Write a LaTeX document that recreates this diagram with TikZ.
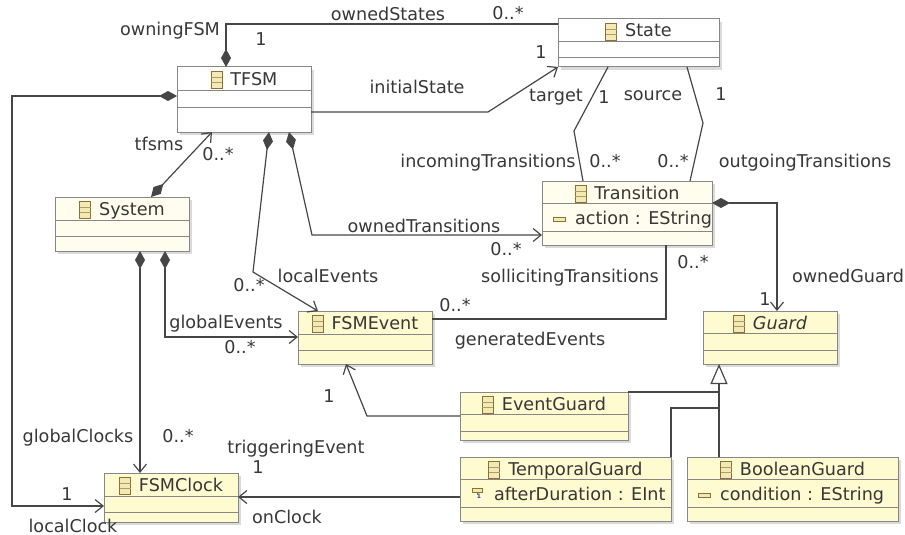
\documentclass[tikz,border=0pt]{standalone}
\usepackage{fontspec}
\setmainfont{DejaVu Sans}
\usetikzlibrary{arrows.meta}
\usetikzlibrary{fit}
\usetikzlibrary{shadows}

\definecolor{textgray}{RGB}{55,55,55}
\definecolor{linegray}{RGB}{70,70,70}
\definecolor{boxgray}{RGB}{135,135,135}
\definecolor{shadowgray}{RGB}{218,218,218}
\definecolor{clsyellow}{RGB}{255,251,208}
\definecolor{clspale}{RGB}{255,254,238}
\definecolor{iconbrown}{RGB}{140,112,56}
\definecolor{iconfill}{RGB}{242,234,176}
\definecolor{iconblue}{RGB}{40,70,160}

\newcommand{\clsicon}{\tikz[x=1pt,y=1pt,baseline=3pt]{\draw[iconbrown,line width=0.9pt,fill=iconfill] (0,0) rectangle (11,16.5); \draw[iconbrown!70,line width=0.7pt] (0,5.5) -- (11,5.5) (0,11) -- (11,11);}}
\newcommand{\attricon}{\tikz[x=1pt,y=1pt,baseline=0pt]{\draw[iconbrown,line width=0.9pt,fill=iconfill] (0,2.5) rectangle (12,7);}}
\newcommand{\intattricon}{\tikz[x=1pt,y=1pt,baseline=0pt]{\draw[iconbrown,line width=0.9pt,fill=iconfill] (0,7.5) rectangle (10,11.5); \draw[iconbrown,line width=0.8pt] (5,7.5) -- (5,5); \node[iconblue,font=\fontsize{6}{6}\selectfont\bfseries,inner sep=0pt] (eintMark) at (4,2) {1};}}

\tikzset{
    classbox/.style={draw=boxgray, line width=1pt, inner sep=0pt, outer sep=0pt, fill=clsyellow,
        drop shadow={shadow xshift=3pt, shadow yshift=-3pt, fill=shadowgray, opacity=1}},
    sepline/.style={draw=boxgray, line width=1pt},
    title/.style={text=textgray, anchor=base, inner sep=0pt},
    attr/.style={text=textgray, anchor=base west, inner sep=0pt},
    lbl/.style={text=textgray, anchor=base, inner sep=0pt},
    link/.style={draw=linegray, line width=1.2pt},
    owns/.style={arrows={Diamond[length=18pt,width=10pt]-}},
    owns nav/.style={arrows={Diamond[length=18pt,width=10pt]-Straight Barb[length=8pt,width=13pt]}},
    nav/.style={arrows={-Straight Barb[length=8pt,width=13pt]}},
    inherits/.style={arrows={-Triangle[open,length=20pt,width=17pt]}}
}

\begin{document}
\begin{tikzpicture}[x=1pt, y=-1pt, font=\fontsize{17.6}{21}\selectfont]
    \useasboundingbox (0,0) rectangle (905,535);

    % Class: TFSM
    \node[classbox, fill=white, fit={(177,67) (311,132)}] (tfsm) {};
    \draw[sepline] (tfsm.west |- 0,90) -- (tfsm.east |- 0,90);
    \draw[sepline] (tfsm.west |- 0,107) -- (tfsm.east |- 0,107);
    \node[title] (tfsmTitle) at ([yshift=-18pt]tfsm.north) {\clsicon\hspace{8pt}TFSM};

    % Class: State
    \node[classbox, fill=white, fit={(558,19) (719,67)}] (state) {};
    \draw[sepline] (state.west |- 0,42) -- (state.east |- 0,42);
    \draw[sepline] (state.west |- 0,58) -- (state.east |- 0,58);
    \node[title] (stateTitle) at ([yshift=-18pt]state.north) {\clsicon\hspace{8pt}State};

    % Class: System
    \node[classbox, fill=clspale, fit={(55,197) (189,251)}] (system) {};
    \draw[sepline] (system.west |- 0,220) -- (system.east |- 0,220);
    \draw[sepline] (system.west |- 0,236) -- (system.east |- 0,236);
    \node[title] (systemTitle) at ([yshift=-18pt]system.north) {\clsicon\hspace{8pt}System};

    % Class: Transition
    \node[classbox, fill=clspale, fit={(542,181) (712,245)}] (transition) {};
    \draw[sepline] (transition.west |- 0,203) -- (transition.east |- 0,203);
    \draw[sepline] (transition.west |- 0,231) -- (transition.east |- 0,231);
    \node[title] (transitionTitle) at ([yshift=-18pt]transition.north) {\clsicon\hspace{8pt}Transition};
    \node[attr] (transitionAction) at (553,224) {\attricon\hspace{9pt}action : EString};

    % Class: Guard (abstract)
    \node[classbox, fit={(703,311) (837,364)}] (guard) {};
    \draw[sepline] (guard.west |- 0,333) -- (guard.east |- 0,333);
    \draw[sepline] (guard.west |- 0,350) -- (guard.east |- 0,350);
    \node[title] (guardTitle) at ([yshift=-18pt]guard.north) {\clsicon\hspace{8pt}\itshape Guard};

    % Class: FSMEvent
    \node[classbox, fit={(298,311) (432,364)}] (fsmevent) {};
    \draw[sepline] (fsmevent.west |- 0,334) -- (fsmevent.east |- 0,334);
    \draw[sepline] (fsmevent.west |- 0,350) -- (fsmevent.east |- 0,350);
    \node[title] (fsmeventTitle) at ([yshift=-18pt]fsmevent.north) {\clsicon\hspace{8pt}FSMEvent};

    % Class: EventGuard
    \node[classbox, fit={(460,392) (628,440)}] (eventguard) {};
    \draw[sepline] (eventguard.west |- 0,414) -- (eventguard.east |- 0,414);
    \draw[sepline] (eventguard.west |- 0,431) -- (eventguard.east |- 0,431);
    \node[title] (eventguardTitle) at ([yshift=-18pt]eventguard.north) {\clsicon\hspace{8pt}EventGuard};

    % Class: TemporalGuard
    \node[classbox, fit={(460,457) (671,521)}] (temporalguard) {};
    \draw[sepline] (temporalguard.west |- 0,479) -- (temporalguard.east |- 0,479);
    \draw[sepline] (temporalguard.west |- 0,507) -- (temporalguard.east |- 0,507);
    \node[title] (temporalguardTitle) at ([yshift=-18pt]temporalguard.north) {\clsicon\hspace{8pt}TemporalGuard};
    \node[attr] (temporalguardAfter) at (472,500) {\intattricon\hspace{11pt}afterDuration : EInt};

    % Class: BooleanGuard
    \node[classbox, fit={(687,457) (898,521)}] (booleanguard) {};
    \draw[sepline] (booleanguard.west |- 0,479) -- (booleanguard.east |- 0,479);
    \draw[sepline] (booleanguard.west |- 0,507) -- (booleanguard.east |- 0,507);
    \node[title] (booleanguardTitle) at ([yshift=-18pt]booleanguard.north) {\clsicon\hspace{8pt}BooleanGuard};
    \node[attr] (booleanguardCondition) at (698,500) {\attricon\hspace{9pt}condition : EString};

    % Class: FSMClock
    \node[classbox, fit={(104,473) (238,522)}] (fsmclock) {};
    \draw[sepline] (fsmclock.west |- 0,496) -- (fsmclock.east |- 0,496);
    \draw[sepline] (fsmclock.west |- 0,512) -- (fsmclock.east |- 0,512);
    \node[title] (fsmclockTitle) at ([yshift=-18pt]fsmclock.north) {\clsicon\hspace{8pt}FSMClock};

    % References
    \draw[link, owns] (tfsm.north -| 226,0) |- (state.west |- 0,24);
    \draw[link, nav] (tfsm.east |- 0,112) -- (488,112) -- (state.south west);
    \draw[link] (state.south -| 608,0) -- (574,131) -- (transition.north -| 583,0);
    \draw[link] (state.south -| 687,0) -- (703,123) -- (transition.north -| 690,0);
    \draw[link, owns nav] (tfsm.south -| 289,0) -- (312,235) -- (transition.west |- 0,235);
    \draw[link, owns nav] (tfsm.south -| 269,0) -- (253,272) -- (fsmevent.north -| 318,0);
    \draw[link, owns nav] (system.north -| 151,0) -- (tfsm.south -| 212,0);
    \draw[link, owns nav] (tfsm.west |- 0,96) -| (12,506) -- (fsmclock.west |- 0,506);
    \draw[link, owns nav] (system.south -| 140,0) -- (fsmclock.north -| 140,0);
    \draw[link, owns nav] (system.south -| 165,0) |- (fsmevent.west |- 0,337);
    \draw[link] (transition.south -| 666,0) |- (fsmevent.east |- 0,319);
    \draw[link, owns nav] (transition.east |- 0,203) -| (guard.north -| 777,0);
    \draw[link, nav] (eventguard.west |- 0,416) -- (367,416) -- (fsmevent.south -| 346,0);
    \draw[link, nav] (temporalguard.west |- 0,497) -- (fsmclock.east |- 0,497);

    % Generalisation
    \draw[link, inherits] (booleanguard.north -| 719,0) -- (guard.south -| 719,0);
    \draw[link] (eventguard.north east) -- (eventguard.north east -| 719,0);
    \draw[link] (temporalguard.north east) |- (719,408);

    % Role names and multiplicities
    \node[lbl] (ownedStatesLbl) at (388,21) {ownedStates};
    \node[lbl] (ownedStatesMul) at (508,20) {0..*};
    \node[lbl] (owningFsmLbl) at (170,36) {owningFSM};
    \node[lbl] (owningFsmMul) at (261,46) {1};
    \node[lbl] (initialStateMul) at (541,59) {1};
    \node[lbl] (initialStateLbl) at (417,93) {initialState};
    \node[lbl] (targetLbl) at (556,101) {target};
    \node[lbl] (targetMul) at (604,103) {1};
    \node[lbl] (sourceLbl) at (653,100) {source};
    \node[lbl] (sourceMul) at (721,100) {1};
    \node[lbl] (tfsmsLbl) at (159,150) {tfsms};
    \node[lbl] (tfsmsMul) at (218,160) {0..*};
    \node[lbl] (incomingLbl) at (488,167) {incomingTransitions};
    \node[lbl] (incomingMul) at (605,167) {0..*};
    \node[lbl] (outgoingMul) at (673,167) {0..*};
    \node[lbl] (outgoingLbl) at (805,167) {outgoingTransitions};
    \node[lbl] (ownedTransitionsLbl) at (424,232) {ownedTransitions};
    \node[lbl] (ownedTransitionsMul) at (506,255) {0..*};
    \node[lbl] (localEventsLbl) at (328,282) {localEvents};
    \node[lbl] (localEventsMul) at (249,291) {0..*};
    \node[lbl] (sollicitingLbl) at (570,282) {sollicitingTransitions};
    \node[lbl] (sollicitingMul) at (693,268) {0..*};
    \node[lbl] (ownedGuardLbl) at (848,282) {ownedGuard};
    \node[lbl] (ownedGuardMul) at (765,305) {1};
    \node[lbl] (generatedMul) at (455,311) {0..*};
    \node[lbl] (globalEventsLbl) at (226,328) {globalEvents};
    \node[lbl] (globalEventsMul) at (240,353) {0..*};
    \node[lbl] (generatedLbl) at (530,345) {generatedEvents};
    \node[lbl] (triggeringMul) at (329,402) {1};
    \node[lbl] (globalClocksLbl) at (78,442) {globalClocks};
    \node[lbl] (globalClocksMul) at (178,442) {0..*};
    \node[lbl] (triggeringLbl) at (296,453) {triggeringEvent};
    \node[lbl] (onClockMul) at (258,473) {1};
    \node[lbl] (localClockMul) at (67,500) {1};
    \node[lbl] (onClockLbl) at (287,523) {onClock};
    \node[lbl] (localClockLbl) at (73,532) {localClock};
\end{tikzpicture}
\end{document}
